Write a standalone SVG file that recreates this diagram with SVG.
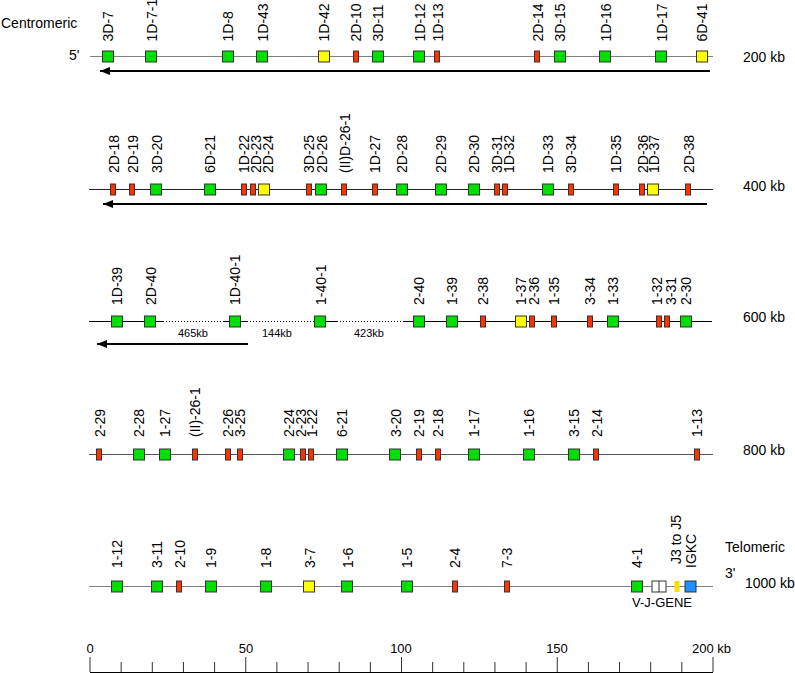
<svg xmlns="http://www.w3.org/2000/svg" width="795" height="673" viewBox="0 0 795 673">
<style>
text{font-family:"Liberation Sans",Arial,sans-serif;fill:#000}
.t{font-size:14px}
.l{font-size:14px}
.a{font-size:13px}
.s{font-size:11px}
.g{fill:#00e000;stroke:#333;stroke-width:1}
.r{fill:#ff3300;stroke:#333;stroke-width:1}
.y{fill:#ffff00;stroke:#333;stroke-width:1}
.b{fill:#1e90ff;stroke:#333;stroke-width:1}
.w{fill:#fff;stroke:#333;stroke-width:1}
.j{fill:#ffdd00;stroke:none}
.bb{fill:none;stroke-width:1}
.dot{fill:none;stroke:#000;stroke-width:1;stroke-dasharray:1,2}
.arr{fill:none;stroke:#000;stroke-width:2}
.tk{stroke:#333;stroke-width:1}
</style>
<defs>
<marker id="ah" markerUnits="userSpaceOnUse" markerWidth="10" markerHeight="8" refX="10" refY="4" orient="auto">
<path d="M0,0 L10,4 L0,8 z" fill="#000"/>
</marker>
</defs>

<g id="labels">
<text class="t" x="1" y="28">Centromeric</text>
<text class="t" x="69" y="60">5'</text>
<text class="t" x="743" y="62">200 kb</text>
<text class="t" x="743" y="191">400 kb</text>
<text class="t" x="743" y="322">600 kb</text>
<text class="t" x="743" y="455">800 kb</text>
<text class="t" x="745" y="588">1000 kb</text>
<text class="t" x="725" y="552">Telomeric</text>
<text class="t" x="725" y="578">3'</text>
<text class="s" x="193" y="337" text-anchor="middle">465kb</text>
<text class="s" x="277" y="337" text-anchor="middle">144kb</text>
<text class="s" x="369" y="337" text-anchor="middle">423kb</text>
<text class="a" x="662" y="607" text-anchor="middle">V-J-GENE</text>
</g>

<g id="backbones">
<path class="bb" stroke="#808080" d="M90,56.5 H713"/>
<path class="bb" stroke="#222" d="M89,189.5 H713"/>
<path class="bb" stroke="#000" d="M89,321.5 H163 M223,321.5 H247 M313,321.5 H337 M403,321.5 H712"/>
<path class="dot" d="M163,321.5 H223 M247,321.5 H313 M337,321.5 H403"/>
<path class="bb" stroke="#555" d="M89,454.5 H713"/>
<path class="bb" stroke="#808080" d="M89,586.5 H713"/>
</g>

<g id="connectors">
<path class="arr" d="M710,71 H100" marker-end="url(#ah)"/>
<path class="arr" d="M707,204 H103" marker-end="url(#ah)"/>
<path class="arr" d="M248,344 H97" marker-end="url(#ah)"/>
</g>

<g id="row1">
<g id="n-3D-7"><rect class="g" x="102.5" y="51" width="11" height="11"/><text class="l" transform="translate(112.5,41.5) rotate(-90)">3D-7</text></g>
<g id="n-1D-7-1"><rect class="g" x="145.5" y="51" width="11" height="11"/><text class="l" transform="translate(157,41.5) rotate(-90)">1D-7-1</text></g>
<g id="n-1D-8"><rect class="g" x="222.5" y="51" width="11" height="11"/><text class="l" transform="translate(233,41.5) rotate(-90)">1D-8</text></g>
<g id="n-1D-43"><rect class="g" x="256.5" y="51" width="11" height="11"/><text class="l" transform="translate(267.5,41.5) rotate(-90)">1D-43</text></g>
<g id="n-1D-42"><rect class="y" x="318.5" y="51" width="11" height="11"/><text class="l" transform="translate(329,41.5) rotate(-90)">1D-42</text></g>
<g id="n-2D-10"><rect class="r" x="353.5" y="51" width="5" height="11"/><text class="l" transform="translate(361,41.5) rotate(-90)">2D-10</text></g>
<g id="n-3D-11"><rect class="g" x="372.5" y="51" width="11" height="11"/><text class="l" transform="translate(383,41.5) rotate(-90)">3D-11</text></g>
<g id="n-1D-12"><rect class="g" x="413.5" y="51" width="11" height="11"/><text class="l" transform="translate(425,41.5) rotate(-90)">1D-12</text></g>
<g id="n-1D-13"><rect class="r" x="434.5" y="51" width="5" height="11"/><text class="l" transform="translate(442.5,41.5) rotate(-90)">1D-13</text></g>
<g id="n-2D-14"><rect class="r" x="534.5" y="51" width="5" height="11"/><text class="l" transform="translate(542.5,41.5) rotate(-90)">2D-14</text></g>
<g id="n-3D-15"><rect class="g" x="554.5" y="51" width="11" height="11"/><text class="l" transform="translate(565,41.5) rotate(-90)">3D-15</text></g>
<g id="n-1D-16"><rect class="g" x="599.5" y="51" width="11" height="11"/><text class="l" transform="translate(610.5,41.5) rotate(-90)">1D-16</text></g>
<g id="n-1D-17"><rect class="g" x="655.5" y="51" width="11" height="11"/><text class="l" transform="translate(666.5,41.5) rotate(-90)">1D-17</text></g>
<g id="n-6D-41"><rect class="y" x="696.5" y="51" width="11" height="11"/><text class="l" transform="translate(707,41.5) rotate(-90)">6D-41</text></g>
</g>

<g id="row2">
<g id="n-2D-18"><rect class="r" x="110.5" y="184" width="5" height="11"/><text class="l" transform="translate(119,173) rotate(-90)">2D-18</text></g>
<g id="n-2D-19"><rect class="r" x="129.5" y="184" width="5" height="11"/><text class="l" transform="translate(138,173) rotate(-90)">2D-19</text></g>
<g id="n-3D-20"><rect class="g" x="150.5" y="184" width="11" height="11"/><text class="l" transform="translate(162,173) rotate(-90)">3D-20</text></g>
<g id="n-6D-21"><rect class="g" x="204.5" y="184" width="11" height="11"/><text class="l" transform="translate(215,173) rotate(-90)">6D-21</text></g>
<g id="n-1D-22"><rect class="r" x="241.5" y="184" width="5" height="11"/><text class="l" transform="translate(249,173) rotate(-90)">1D-22</text></g>
<g id="n-2D-23"><rect class="r" x="250.5" y="184" width="5" height="11"/><text class="l" transform="translate(260.5,173) rotate(-90)">2D-23</text></g>
<g id="n-2D-24"><rect class="y" x="258.5" y="184" width="11" height="11"/><text class="l" transform="translate(273,173) rotate(-90)">2D-24</text></g>
<g id="n-3D-25"><rect class="r" x="306.5" y="184" width="5" height="11"/><text class="l" transform="translate(314,173) rotate(-90)">3D-25</text></g>
<g id="n-2D-26"><rect class="g" x="315.5" y="184" width="11" height="11"/><text class="l" transform="translate(327,173) rotate(-90)">2D-26</text></g>
<g id="n-IID-26-1"><rect class="r" x="341.5" y="184" width="5" height="11"/><text class="l" transform="translate(350,173) rotate(-90)">(II)D-26-1</text></g>
<g id="n-1D-27"><rect class="r" x="372.5" y="184" width="5" height="11"/><text class="l" transform="translate(380,173) rotate(-90)">1D-27</text></g>
<g id="n-2D-28"><rect class="g" x="396.5" y="184" width="11" height="11"/><text class="l" transform="translate(407,173) rotate(-90)">2D-28</text></g>
<g id="n-2D-29"><rect class="g" x="435.5" y="184" width="11" height="11"/><text class="l" transform="translate(446,173) rotate(-90)">2D-29</text></g>
<g id="n-2D-30"><rect class="g" x="468.5" y="184" width="11" height="11"/><text class="l" transform="translate(479,173) rotate(-90)">2D-30</text></g>
<g id="n-3D-31"><rect class="r" x="494.5" y="184" width="5" height="11"/><text class="l" transform="translate(502,173) rotate(-90)">3D-31</text></g>
<g id="n-1D-32"><rect class="r" x="502.5" y="184" width="5" height="11"/><text class="l" transform="translate(514,173) rotate(-90)">1D-32</text></g>
<g id="n-1D-33"><rect class="g" x="542.5" y="184" width="11" height="11"/><text class="l" transform="translate(553,173) rotate(-90)">1D-33</text></g>
<g id="n-3D-34"><rect class="r" x="568.5" y="184" width="5" height="11"/><text class="l" transform="translate(576,173) rotate(-90)">3D-34</text></g>
<g id="n-1D-35"><rect class="r" x="613.5" y="184" width="5" height="11"/><text class="l" transform="translate(621,173) rotate(-90)">1D-35</text></g>
<g id="n-2D-36"><rect class="r" x="639.5" y="184" width="5" height="11"/><text class="l" transform="translate(648,173) rotate(-90)">2D-36</text></g>
<g id="n-1D-37"><rect class="y" x="647.5" y="184" width="11" height="11"/><text class="l" transform="translate(659,173) rotate(-90)">1D-37</text></g>
<g id="n-2D-38"><rect class="r" x="685.5" y="184" width="5" height="11"/><text class="l" transform="translate(694,173) rotate(-90)">2D-38</text></g>
</g>

<g id="row3">
<g id="n-1D-39"><rect class="g" x="111.5" y="316" width="11" height="11"/><text class="l" transform="translate(122,305) rotate(-90)">1D-39</text></g>
<g id="n-2D-40"><rect class="g" x="144.5" y="316" width="11" height="11"/><text class="l" transform="translate(156,305) rotate(-90)">2D-40</text></g>
<g id="n-1D-40-1"><rect class="g" x="229.5" y="316" width="11" height="11"/><text class="l" transform="translate(240,305) rotate(-90)">1D-40-1</text></g>
<g id="n-1-40-1"><rect class="g" x="314.5" y="316" width="11" height="11"/><text class="l" transform="translate(326,305) rotate(-90)">1-40-1</text></g>
<g id="n-2-40"><rect class="g" x="413.5" y="316" width="11" height="11"/><text class="l" transform="translate(424,305) rotate(-90)">2-40</text></g>
<g id="n-1-39"><rect class="g" x="446.5" y="316" width="11" height="11"/><text class="l" transform="translate(457,305) rotate(-90)">1-39</text></g>
<g id="n-2-38"><rect class="r" x="480.5" y="316" width="5" height="11"/><text class="l" transform="translate(488,305) rotate(-90)">2-38</text></g>
<g id="n-1-37"><rect class="y" x="515.5" y="316" width="11" height="11"/><text class="l" transform="translate(526,305) rotate(-90)">1-37</text></g>
<g id="n-2-36"><rect class="r" x="529.5" y="316" width="5" height="11"/><text class="l" transform="translate(539,305) rotate(-90)">2-36</text></g>
<g id="n-1-35"><rect class="r" x="551.5" y="316" width="5" height="11"/><text class="l" transform="translate(559,305) rotate(-90)">1-35</text></g>
<g id="n-3-34"><rect class="r" x="587.5" y="316" width="5" height="11"/><text class="l" transform="translate(595,305) rotate(-90)">3-34</text></g>
<g id="n-1-33"><rect class="g" x="607.5" y="316" width="11" height="11"/><text class="l" transform="translate(618,305) rotate(-90)">1-33</text></g>
<g id="n-1-32"><rect class="r" x="656.5" y="316" width="5" height="11"/><text class="l" transform="translate(662,305) rotate(-90)">1-32</text></g>
<g id="n-3-31"><rect class="r" x="664.5" y="316" width="5" height="11"/><text class="l" transform="translate(676,305) rotate(-90)">3-31</text></g>
<g id="n-2-30"><rect class="g" x="680.5" y="316" width="11" height="11"/><text class="l" transform="translate(691,305) rotate(-90)">2-30</text></g>
</g>

<g id="row4">
<g id="n-2-29"><rect class="r" x="96.5" y="449" width="5" height="11"/><text class="l" transform="translate(105,437) rotate(-90)">2-29</text></g>
<g id="n-2-28"><rect class="g" x="133.5" y="449" width="11" height="11"/><text class="l" transform="translate(144,437) rotate(-90)">2-28</text></g>
<g id="n-1-27"><rect class="g" x="159.5" y="449" width="11" height="11"/><text class="l" transform="translate(170,437) rotate(-90)">1-27</text></g>
<g id="n-II-26-1"><rect class="r" x="192.5" y="449" width="5" height="11"/><text class="l" transform="translate(200,437) rotate(-90)">(II)-26-1</text></g>
<g id="n-2-26"><rect class="r" x="225.5" y="449" width="5" height="11"/><text class="l" transform="translate(233,437) rotate(-90)">2-26</text></g>
<g id="n-3-25"><rect class="r" x="237.5" y="449" width="5" height="11"/><text class="l" transform="translate(245,437) rotate(-90)">3-25</text></g>
<g id="n-2-24"><rect class="g" x="283.5" y="449" width="11" height="11"/><text class="l" transform="translate(294,437) rotate(-90)">2-24</text></g>
<g id="n-2-23"><rect class="r" x="300.5" y="449" width="5" height="11"/><text class="l" transform="translate(306,437) rotate(-90)">2-23</text></g>
<g id="n-1-22"><rect class="r" x="308.5" y="449" width="5" height="11"/><text class="l" transform="translate(317,437) rotate(-90)">1-22</text></g>
<g id="n-6-21"><rect class="g" x="336.5" y="449" width="11" height="11"/><text class="l" transform="translate(347,437) rotate(-90)">6-21</text></g>
<g id="n-3-20"><rect class="g" x="389.5" y="449" width="11" height="11"/><text class="l" transform="translate(401,437) rotate(-90)">3-20</text></g>
<g id="n-2-19"><rect class="r" x="416.5" y="449" width="5" height="11"/><text class="l" transform="translate(424,437) rotate(-90)">2-19</text></g>
<g id="n-2-18"><rect class="r" x="435.5" y="449" width="5" height="11"/><text class="l" transform="translate(443,437) rotate(-90)">2-18</text></g>
<g id="n-1-17"><rect class="g" x="468.5" y="449" width="11" height="11"/><text class="l" transform="translate(479,437) rotate(-90)">1-17</text></g>
<g id="n-1-16"><rect class="g" x="523.5" y="449" width="11" height="11"/><text class="l" transform="translate(534,437) rotate(-90)">1-16</text></g>
<g id="n-3-15"><rect class="g" x="568.5" y="449" width="11" height="11"/><text class="l" transform="translate(579,437) rotate(-90)">3-15</text></g>
<g id="n-2-14"><rect class="r" x="593.5" y="449" width="5" height="11"/><text class="l" transform="translate(602,437) rotate(-90)">2-14</text></g>
<g id="n-1-13"><rect class="r" x="694.5" y="449" width="5" height="11"/><text class="l" transform="translate(702,437) rotate(-90)">1-13</text></g>
</g>

<g id="row5">
<g id="n-1-12"><rect class="g" x="111.5" y="581" width="11" height="11"/><text class="l" transform="translate(122,568) rotate(-90)">1-12</text></g>
<g id="n-3-11"><rect class="g" x="151.5" y="581" width="11" height="11"/><text class="l" transform="translate(162,568) rotate(-90)">3-11</text></g>
<g id="n-2-10"><rect class="r" x="176.5" y="581" width="5" height="11"/><text class="l" transform="translate(185,568) rotate(-90)">2-10</text></g>
<g id="n-1-9"><rect class="g" x="205.5" y="581" width="11" height="11"/><text class="l" transform="translate(216,568) rotate(-90)">1-9</text></g>
<g id="n-1-8"><rect class="g" x="260.5" y="581" width="11" height="11"/><text class="l" transform="translate(271,568) rotate(-90)">1-8</text></g>
<g id="n-3-7"><rect class="y" x="303.5" y="581" width="11" height="11"/><text class="l" transform="translate(315,568) rotate(-90)">3-7</text></g>
<g id="n-1-6"><rect class="g" x="341.5" y="581" width="11" height="11"/><text class="l" transform="translate(353,568) rotate(-90)">1-6</text></g>
<g id="n-1-5"><rect class="g" x="401.5" y="581" width="11" height="11"/><text class="l" transform="translate(412,568) rotate(-90)">1-5</text></g>
<g id="n-2-4"><rect class="r" x="452.5" y="581" width="5" height="11"/><text class="l" transform="translate(460,568) rotate(-90)">2-4</text></g>
<g id="n-7-3"><rect class="r" x="504.5" y="581" width="5" height="11"/><text class="l" transform="translate(512,568) rotate(-90)">7-3</text></g>
<g id="n-4-1"><rect class="g" x="631.5" y="581" width="11" height="11"/><text class="l" transform="translate(642,568) rotate(-90)">4-1</text></g>
<g id="n-vj"><rect class="w" x="652" y="581" width="14" height="11"/><path class="tk" d="M659,581 V592"/></g>
<g id="n-J3-J5"><rect class="j" x="674.5" y="581" width="5" height="11"/><text class="l" transform="translate(681,564) rotate(-90)">J3 to J5</text></g>
<g id="n-IGKC"><rect class="b" x="685" y="581" width="11" height="11"/><text class="l" transform="translate(696,568) rotate(-90)">IGKC</text></g>
</g>

<g id="scale">
<path stroke="#000" stroke-width="1" d="M90,672.5 H713"/>
<path class="tk" d="M90,657 V672 M245.75,657 V672 M401.5,657 V672 M557.25,657 V672 M713,657 V672"/>
<path class="tk" d="M121.15,662 V672 M152.3,662 V672 M183.45,662 V672 M214.6,662 V672 M276.9,662 V672 M308.05,662 V672 M339.2,662 V672 M370.35,662 V672 M432.65,662 V672 M463.8,662 V672 M494.95,662 V672 M526.1,662 V672 M588.4,662 V672 M619.55,662 V672 M650.7,662 V672 M681.85,662 V672"/>
<text class="a" x="90" y="653" text-anchor="middle">0</text>
<text class="a" x="246" y="653" text-anchor="middle">50</text>
<text class="a" x="401" y="653" text-anchor="middle">100</text>
<text class="a" x="557" y="653" text-anchor="middle">150</text>
<text class="a" x="692" y="653">200 kb</text>
</g>
</svg>
